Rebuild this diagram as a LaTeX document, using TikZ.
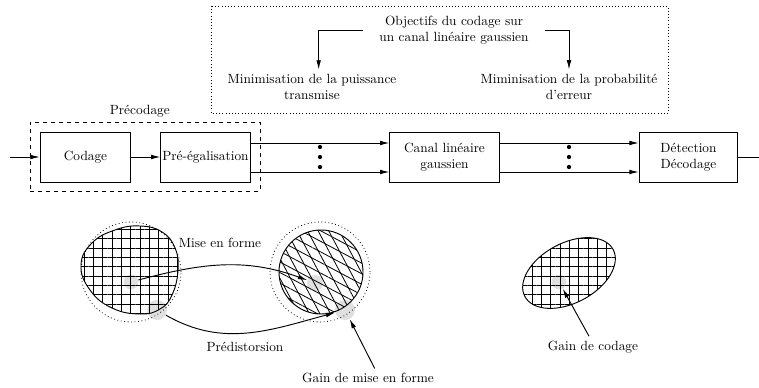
\documentclass[tikz,border=0pt]{standalone}
\usepackage{tikz}
\usetikzlibrary{arrows.meta, patterns.meta, fit}

\tikzset{
  bloc/.style={draw, line width=0.7pt, minimum height=37.5pt, align=center},
  spot/.style={circle, fill=black!12, inner sep=0pt},
  fleche/.style={->, line width=0.7pt},
}

\newcommand{\blobshape}{plot[smooth cycle, tension=0.75] coordinates {
  (81,-265) (92,-243) (115,-230) (140,-226) (162,-232) (175,-248)
  (178,-270) (172,-295) (160,-309) (140,-314) (112,-308) (90,-290)}}

\begin{document}
\begin{tikzpicture}[x=0.75pt, y=0.75pt, >={Latex[length=7pt, width=3.5pt]}]
  \useasboundingbox (0,0) rectangle (759,-388);

  % Objectifs
  \draw[dotted] (211,-6) rectangle (668,-113);
  \node[align=center] (objectif) at (454,-30) {Objectifs du codage sur\\un canal lin\'eaire gaussien};
  \node[align=center] (minp) at (312,-87) {Minimisation de la puissance\\transmise};
  \node[align=center] (minerr) at (569,-87) {Miminisation de la probabilit\'e\\d'erreur};
  \draw[fleche] ([xshift=-9pt]objectif.west) -| ([xshift=5pt]minp.north);
  \draw[fleche] ([xshift=9pt]objectif.east) -| (minerr.north);

  % Chaine de transmission
  \node[bloc, minimum width=68pt] (codage) at (85.5,-157) {Codage};
  \node[bloc, minimum width=67pt, inner sep=1pt] (pregal) at (205.5,-157) {Pr\'e-\'egalisation};
  \node[bloc, minimum width=82pt] (canal) at (444.5,-157) {Canal lin\'eaire\\gaussien};
  \node[bloc, minimum width=74pt] (detect) at (688.5,-157) {D\'etection\\D\'ecodage};
  \node[draw, dashed, line width=0.6pt, fit=(codage)(pregal), inner sep=7pt] (precodage) {};
  \node[above] at ([xshift=-4pt]precodage.north) {Pr\'ecodage};

  \coordinate (entree) at (10,-157);
  \coordinate (sortie) at (759,-157);
  \coordinate (haut) at (0,-143);
  \coordinate (bas) at (0,-172);
  \draw[fleche] (entree) -- (codage);
  \draw[fleche] (codage) -- (pregal);
  \draw[fleche] (pregal.east |- haut) -- (canal.west |- haut);
  \draw[fleche] (pregal.east |- bas) -- (canal.west |- bas);
  \draw[fleche] (canal.east |- haut) -- (detect.west |- haut);
  \draw[fleche] (canal.east |- bas) -- (detect.west |- bas);
  \draw[line width=0.7pt] (detect) -- (sortie);
  \foreach \x in {320,569}
    \foreach \y in {-147,-157,-167}
      \fill (\x,\y) circle (1.6pt);

  % Zones de gain
  \node[spot, minimum size=11pt] (s1) at (131,-282) {};
  \node[spot, minimum size=15pt] (s3) at (157,-310) {};
  \node[spot, minimum size=12pt] (s2) at (315,-283) {};
  \node[spot, minimum size=15pt] (s4) at (345,-310) {};
  \node[spot, minimum size=11pt] (s5) at (559,-282) {};

  % Constellations
  \draw[line width=0.7pt, pattern={Hatch[angle=0, distance=7pt, line width=0.6pt]}] \blobshape;
  \draw[dotted, line width=0.6pt] (131,-272) circle (50);
  \fill[pattern={Lines[angle=-62, distance=7pt, line width=0.6pt]}] (321,-272) circle (42);
  \draw[line width=0.7pt, pattern={Lines[angle=-28, distance=7pt, line width=0.6pt]}] (321,-272) circle (42);
  \draw[dotted, line width=0.6pt] (320,-272) circle (50);
  \draw[line width=0.7pt, rotate around={28:(569,-273)}, pattern={Hatch[angle=0, distance=7pt, line width=0.6pt]}] (569,-273) ellipse (50 and 30);

  % Transformations
  \node (miseforme) at (220,-243) {Mise en forme};
  \node (predist) at (245,-347) {Pr\'edistorsion};
  \node (gainmf) at (368,-378) {Gain de mise en forme};
  \node (gaincod) at (593,-347) {Gain de codage};
  \draw[fleche] (s1) to[out=15, in=160] (s2);
  \draw[fleche] (s3) to[out=-30, in=195] (s4);
  \draw[fleche] ([xshift=5pt]gainmf.north) -- (s4);
  \draw[fleche] ([xshift=-3pt]gaincod.north) -- (s5);
\end{tikzpicture}
\end{document}
